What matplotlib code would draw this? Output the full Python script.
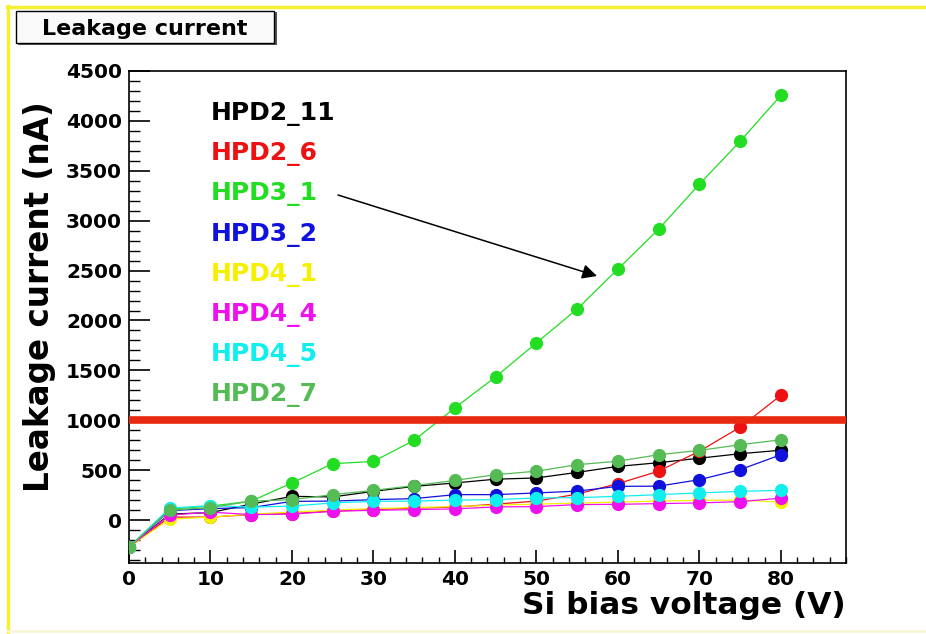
import matplotlib
matplotlib.use("Agg")
import matplotlib.pyplot as plt
from matplotlib.patches import Rectangle
from matplotlib.lines import Line2D
from matplotlib.ticker import MultipleLocator

W, H = 926, 634

# ---------------- data ----------------
voltage = [0, 5, 10, 15, 20, 25, 30, 35, 40, 45, 50, 55, 60, 65, 70, 75, 80]

hpd2_11 = [-270, 60, 75, 160, 238, 232, 288, 338, 372, 410, 422, 478, 538, 575, 620, 665, 700]
hpd2_6 = [-270, 30, 30, 55, 65, 90, 105, 120, 130, 160, 190, 260, 365, 490, 690, 930, 1250]
hpd3_1 = [-270, 110, 140, 190, 372, 565, 588, 800, 1125, 1435, 1775, 2115, 2515, 2915, 3365, 3795, 4255]
hpd3_2 = [-270, 95, 115, 125, 188, 190, 205, 215, 255, 255, 272, 290, 338, 340, 405, 505, 655]
hpd4_1 = [-270, 10, 30, 60, 80, 100, 115, 125, 135, 150, 160, 170, 180, 190, 198, 200, 180]
hpd4_4 = [-270, 50, 80, 55, 60, 88, 98, 105, 112, 132, 135, 155, 158, 165, 172, 185, 220]
hpd4_5 = [-270, 120, 145, 130, 140, 172, 188, 190, 200, 205, 222, 225, 238, 255, 272, 288, 298]
hpd2_7 = [-270, 100, 125, 190, 205, 255, 298, 345, 398, 455, 490, 555, 590, 655, 698, 755, 805]

series_names = ["HPD2_11", "HPD2_6", "HPD3_1", "HPD3_2", "HPD4_1", "HPD4_4", "HPD4_5", "HPD2_7"]
series_values = [hpd2_11, hpd2_6, hpd3_1, hpd3_2, hpd4_1, hpd4_4, hpd4_5, hpd2_7]
series_colors = ["#000000", "#ee1111", "#22dd22", "#1111dd", "#f4f000", "#ee11ee", "#11eeee", "#55bb55"]

limit_current = 1000

title_text = "Leakage current"
xlabel_text = "Si bias voltage (V)"
ylabel_text = "Leakage current (nA)"

# ---------------- figure ----------------
plt.rcParams['font.family'] = ['DejaVu Sans']
plt.rcParams['font.weight'] = 'bold'

fig = plt.figure(figsize=(W / 100, H / 100), dpi=100)
fig.patch.set_facecolor("white")


def fx(x):
    return x / W


def fy(y):
    return 1 - y / H


ax_l, ax_r, ax_t, ax_b = 129, 846, 71, 563
ax = fig.add_axes([fx(ax_l), fy(ax_b), (ax_r - ax_l) / W, (ax_b - ax_t) / H])
ax.set_facecolor("white")

for name, vals, col in zip(series_names, series_values, series_colors):
    ax.plot(voltage, vals, color=col, lw=0.9, marker='o', markersize=8.5,
            markeredgecolor=col, markerfacecolor=col, zorder=3)

ax.axhline(limit_current, color="#e82a10", lw=5.5, zorder=4)

ax.set_xlim(0, 88)
ax.set_ylim(-430, 4500)

ax.xaxis.set_major_locator(MultipleLocator(10))
ax.xaxis.set_minor_locator(MultipleLocator(2))
ax.yaxis.set_major_locator(MultipleLocator(500))
ax.yaxis.set_minor_locator(MultipleLocator(100))

ax.tick_params(axis='x', which='major', direction='in', length=9.5, width=1.2,
               labelsize=14.5, pad=5, top=False)
ax.tick_params(axis='x', which='minor', direction='in', length=4.5, width=1.0, top=False)
ax.tick_params(axis='y', which='major', direction='in', length=15, width=1.2,
               labelsize=14.5, pad=5, right=False)
ax.tick_params(axis='y', which='minor', direction='in', length=8, width=1.0, right=False)

ax.set_xticks([0, 10, 20, 30, 40, 50, 60, 70, 80])
ax.set_yticks([0, 500, 1000, 1500, 2000, 2500, 3000, 3500, 4000, 4500])
for lab in ax.get_xticklabels() + ax.get_yticklabels():
    lab.set_fontweight('bold')

for s in ax.spines.values():
    s.set_linewidth(1.2)
    s.set_color("black")

# axis labels as figure text
fig.text(fx(846), fy(606), xlabel_text, ha='right', va='center',
         fontsize=22.5, fontweight='bold')
fig.text(fx(40), fy(297), ylabel_text, ha='center', va='center', rotation=90,
         fontsize=23.5, fontweight='bold')

# legend-like coloured labels
for i, (name, col) in enumerate(zip(series_names, series_colors)):
    fig.text(fx(211), fy(120 + 40.2 * i), name, color=col, ha='left', va='baseline',
             fontsize=18, fontweight='bold')

# arrow pointing to HPD3_1 curve
ax.annotate("", xy=(fx(597), fy(276)), xycoords='figure fraction',
            xytext=(fx(338), fy(195)), textcoords='figure fraction',
            arrowprops=dict(arrowstyle='-|>', color='black', lw=1.1,
                            mutation_scale=22, shrinkA=0, shrinkB=0))

# title box
fig.patches.append(Rectangle((fx(18), fy(45)), (277 - 18) / W, (45 - 12) / H,
                             transform=fig.transFigure, facecolor='#555555',
                             edgecolor='none', zorder=1))
fig.patches.append(Rectangle((fx(16), fy(43)), (274 - 16) / W, (43 - 11) / H,
                             transform=fig.transFigure, facecolor='#fafafa',
                             edgecolor='black', lw=1.0, zorder=2))
fig.text(fx(145), fy(35), title_text, ha='center', va='baseline',
         fontsize=16, fontweight='bold', zorder=3)

# canvas border (yellow)
fig.add_artist(Line2D([fx(7), fx(926)], [fy(6.5), fy(6.5)], transform=fig.transFigure,
                      color='#f6f030', lw=2.5))
fig.add_artist(Line2D([fx(8), fx(8)], [fy(6), fy(632)], transform=fig.transFigure,
                      color='#f6f030', lw=2.5))
fig.add_artist(Line2D([fx(8), fx(926)], [fy(631), fy(631)], transform=fig.transFigure,
                      color='#f8f6d8', lw=2))

fig.savefig("out.png", dpi=100, facecolor='white')
